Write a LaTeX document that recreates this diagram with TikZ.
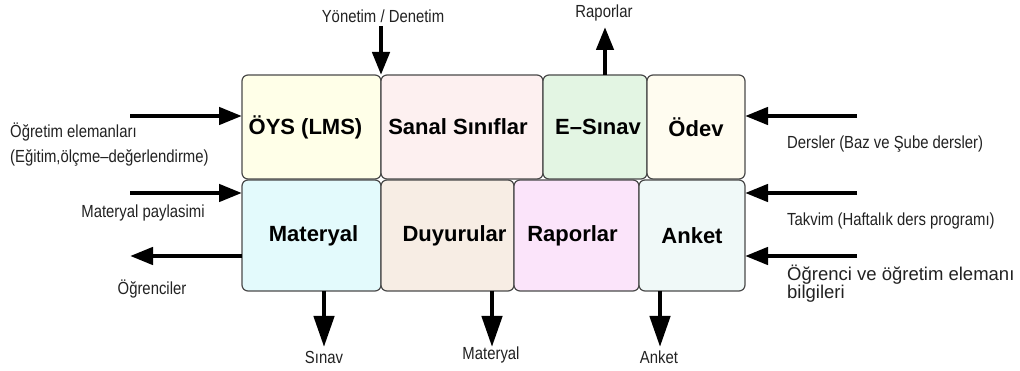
\documentclass[tikz,border=0pt]{standalone}
\usepackage{fontspec}
\setmainfont{Liberation Sans}
\newfontfamily\narrowfont[FakeStretch=0.85]{Liberation Sans}
\usetikzlibrary{arrows.meta}
\definecolor{cOys}{HTML}{FFFFE8}
\definecolor{cSanal}{HTML}{FDF0F0}
\definecolor{cEsinav}{HTML}{E3F5E3}
\definecolor{cOdev}{HTML}{FFFCF0}
\definecolor{cMat}{HTML}{E3FAFC}
\definecolor{cDuy}{HTML}{F7EDE4}
\definecolor{cRap}{HTML}{FBE4FA}
\definecolor{cAnket}{HTML}{F0F9F8}
\definecolor{cBorder}{HTML}{4A4A4A}
\definecolor{cLabel}{HTML}{222222}
\tikzset{
  box/.style={draw=cBorder, line width=1.2pt, rounded corners=6pt, outer sep=0pt, inner sep=0pt,
    font=\fontsize{22}{25}\selectfont\bfseries, text=black},
  lbl/.style={font=\narrowfont\fontsize{17.5}{20}\selectfont, text=cLabel, inner sep=0pt},
  biglbl/.style={font=\fontsize{18.5}{21}\selectfont, text=cLabel, inner sep=0pt, align=left},
  arr/.style={line width=4.5pt, -{Triangle[length=23pt,width=17pt]}},
  arrdown/.style={line width=4.5pt, -{Triangle[length=31pt,width=20pt]}},
}
\begin{document}
\begin{tikzpicture}[x=1pt,y=-1pt]
\useasboundingbox[fill=white] (0,0) rectangle (1020,371);
% boxes, top row
\node[box, fill=cOys, minimum width=139, minimum height=104] (oys) at (311.5,127) {ÖYS (LMS)\hspace*{12pt}};
\node[box, fill=cSanal, minimum width=162, minimum height=104] (sanal) at (462,127) {Sanal Sınıflar\hspace*{8pt}};
\node[box, fill=cEsinav, minimum width=104, minimum height=104] (esinav) at (595,127) {\hspace*{6pt}E–Sınav};
\node[box, fill=cOdev, minimum width=98, minimum height=104] (odev) at (696,127) {Ödev};
% boxes, bottom row
\node[box, fill=cMat, minimum width=139, minimum height=111] (mat) at (311.5,235.5) {\hspace*{4pt}Materyal};
\node[box, fill=cDuy, minimum width=133, minimum height=111] (duy) at (447.5,235.5) {\hspace*{14pt}Duyurular};
\node[box, fill=cRap, minimum width=125, minimum height=111] (rap) at (576.5,235.5) {Raporlar\hspace*{8pt}};
\node[box, fill=cAnket, minimum width=106, minimum height=111] (anket) at (692,235.5) {Anket};

% labels
\node[lbl] (tYon) at (383,16) {Yönetim / Denetim};
\node[lbl] (tRapTop) at (604,13) {Raporlar};
\node[lbl, anchor=west] (tOgr1) at (10,132) {Öğretim elemanları};
\node[lbl, anchor=west] (tOgr2) at (10,158) {(Eğitim,ölçme–değerlendirme)};
\node[lbl] (tMatP) at (143,213) {Materyal paylasimi};
\node[lbl] (tOgrenciler) at (152,289) {Öğrenciler};
\node[lbl, anchor=west] (tDers) at (787,144) {Dersler (Baz ve Şube dersler)};
\node[lbl, anchor=west] (tTakvim) at (787,221) {Takvim (Haftalık ders programı)};
\node[biglbl, anchor=north west] (tBilgi) at (787,265) {Öğrenci ve öğretim elemanı\\[-3pt]bilgileri};
\node[lbl] (tSinav) at (324,357) {Sınav};
\node[lbl] (tMatB) at (491,355) {Materyal};
\node[lbl] (tAnket) at (659,357) {Anket};

% free ends
\coordinate (cYon) at (381,26);
\coordinate (cRapTop) at (605,27);
\coordinate (cL1) at (130,116);
\coordinate (cL2) at (130,193);
\coordinate (cL3) at (130,256);
\coordinate (cR1) at (857,116);
\coordinate (cR2) at (857,193);
\coordinate (cR3) at (857,256);
\coordinate (cB1) at (324,347);
\coordinate (cB2) at (492,347);
\coordinate (cB3) at (660,347);

% arrows
\draw[arr] (cYon) -- (oys.north east);
\draw[arr] (cRapTop |- esinav.north) -- (cRapTop);
\draw[arr] (cL1) -- (cL1 -| oys.west);
\draw[arr] (cL2) -- (cL2 -| mat.west);
\draw[arr] (cL3 -| mat.west) -- (cL3);
\draw[arr] (cR1) -- (cR1 -| odev.east);
\draw[arr] (cR2) -- (cR2 -| anket.east);
\draw[arr] (cR3) -- (cR3 -| anket.east);
\draw[arrdown] (cB1 |- mat.south) -- (cB1);
\draw[arrdown] (cB2 |- duy.south) -- (cB2);
\draw[arrdown] (cB3 |- anket.south) -- (cB3);
\end{tikzpicture}
\end{document}
